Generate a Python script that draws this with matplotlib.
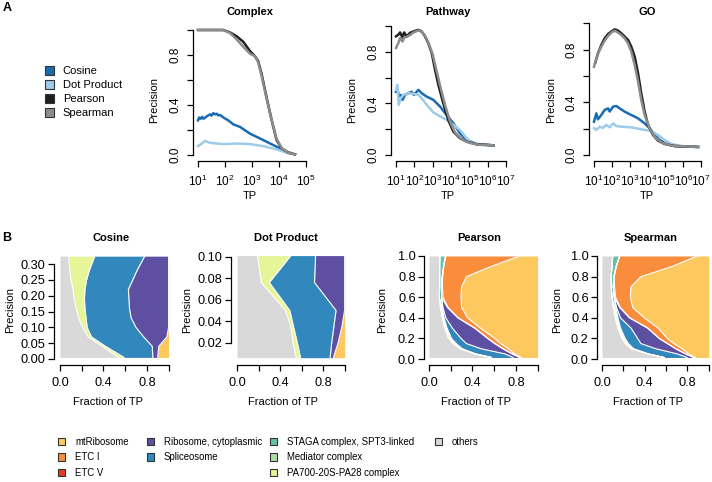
import numpy as np
import matplotlib.pyplot as plt
from matplotlib.patches import Patch

plt.rcParams['font.family'] = ['Liberation Sans', 'DejaVu Sans']
plt.rcParams['mathtext.fontset'] = 'custom'
plt.rcParams['mathtext.rm'] = 'Liberation Sans'

# ---- panel A: precision vs TP (x given as log10 TP) ----
methods = ["Cosine", "Dot Product", "Pearson", "Spearman"]
method_cols = ["#1a6ab4", "#9dcbe9", "#1f1f1f", "#8c8c8c"]

complex_cos_x = [1.0, 1.04, 1.1, 1.15, 1.2, 1.27, 1.33, 1.38, 1.45, 1.5, 1.57, 1.63, 1.7, 1.75, 1.82, 1.88, 1.94, 2.12, 2.31, 2.56, 2.93, 3.3, 3.67, 4.04, 4.28, 4.59]
complex_cos_y = [0.277, 0.30, 0.29, 0.305, 0.29, 0.30, 0.31, 0.317, 0.325, 0.315, 0.335, 0.325, 0.33, 0.317, 0.32, 0.31, 0.30, 0.277, 0.245, 0.224, 0.17, 0.132, 0.092, 0.053, 0.026, 0.005]
complex_dot_x = [1.0, 1.14, 1.26, 1.44, 1.69, 1.94, 2.43, 2.93, 3.42, 3.91, 4.28, 4.59]
complex_dot_y = [0.071, 0.092, 0.113, 0.098, 0.092, 0.087, 0.092, 0.087, 0.071, 0.045, 0.018, 0.005]
complex_pea_x = [1.0, 1.5, 1.94, 2.19, 2.43, 2.68, 2.93, 3.11, 3.23, 3.36, 3.54, 3.73, 3.91, 4.1, 4.35, 4.59]
complex_pea_y = [1.0, 1.0, 1.0, 0.98, 0.95, 0.905, 0.83, 0.79, 0.75, 0.645, 0.46, 0.277, 0.12, 0.053, 0.018, 0.005]
complex_spe_x = [1.0, 1.5, 1.94, 2.19, 2.43, 2.68, 2.93, 3.11, 3.23, 3.36, 3.54, 3.73, 3.91, 4.1, 4.35, 4.59]
complex_spe_y = [1.0, 1.0, 1.0, 0.975, 0.925, 0.865, 0.81, 0.79, 0.74, 0.63, 0.45, 0.28, 0.13, 0.055, 0.018, 0.005]

path_cos_x = [1.0, 1.07, 1.16, 1.25, 1.36, 1.49, 1.67, 1.85, 1.98, 2.22, 2.4, 2.67, 3.04, 3.4, 3.76, 4.13, 4.49, 4.85, 5.4, 6.31]
path_cos_y = [0.49, 0.518, 0.453, 0.466, 0.427, 0.466, 0.479, 0.49, 0.466, 0.505, 0.479, 0.453, 0.427, 0.376, 0.31, 0.246, 0.168, 0.117, 0.085, 0.075]
path_dot_x = [1.0, 1.07, 1.15, 1.25, 1.4, 1.67, 1.95, 2.22, 2.4, 2.67, 3.04, 3.4, 3.76, 4.13, 4.49, 4.85, 5.13, 5.58, 6.31]
path_dot_y = [0.505, 0.544, 0.389, 0.44, 0.466, 0.479, 0.475, 0.466, 0.44, 0.39, 0.33, 0.30, 0.272, 0.233, 0.194, 0.13, 0.095, 0.078, 0.075]
path_pea_x = [1.0, 1.13, 1.22, 1.36, 1.44, 1.58, 1.76, 1.95, 2.22, 2.4, 2.58, 2.76, 2.95, 3.13, 3.31, 3.58, 3.85, 4.13, 4.49, 4.85, 5.4, 6.31]
path_pea_y = [0.92, 0.933, 0.95, 0.91, 0.95, 0.92, 0.946, 0.958, 0.97, 0.958, 0.92, 0.868, 0.79, 0.66, 0.544, 0.40, 0.272, 0.181, 0.13, 0.104, 0.083, 0.075]
path_spe_x = [1.0, 1.13, 1.22, 1.36, 1.44, 1.58, 1.76, 1.95, 2.22, 2.4, 2.6, 2.8, 3.0, 3.2, 3.4, 3.67, 3.95, 4.22, 4.6, 5.0, 5.5, 6.31]
path_spe_y = [0.83, 0.868, 0.907, 0.88, 0.91, 0.915, 0.93, 0.95, 0.966, 0.955, 0.92, 0.86, 0.78, 0.66, 0.54, 0.39, 0.26, 0.175, 0.12, 0.095, 0.08, 0.075]

go_cos_x = [1.0, 1.13, 1.22, 1.41, 1.6, 1.79, 1.88, 2.07, 2.25, 2.44, 2.72, 3.09, 3.47, 3.84, 4.12, 4.4, 4.68, 5.05, 5.52, 6.83]
go_cos_y = [0.253, 0.316, 0.271, 0.304, 0.342, 0.354, 0.33, 0.367, 0.372, 0.354, 0.329, 0.304, 0.278, 0.24, 0.203, 0.152, 0.114, 0.084, 0.068, 0.061]
go_dot_x = [1.0, 1.13, 1.32, 1.5, 1.69, 1.88, 2.07, 2.25, 2.53, 3.09, 3.65, 4.21, 4.59, 4.96, 5.33, 5.9, 6.83]
go_dot_y = [0.203, 0.19, 0.215, 0.205, 0.228, 0.21, 0.24, 0.22, 0.215, 0.21, 0.195, 0.182, 0.152, 0.114, 0.084, 0.068, 0.061]
go_pea_x = [1.07, 1.22, 1.41, 1.6, 1.79, 1.97, 2.16, 2.35, 2.53, 2.72, 2.91, 3.09, 3.28, 3.47, 3.65, 3.84, 4.03, 4.31, 4.59, 4.96, 5.52, 6.83]
go_pea_y = [0.70, 0.77, 0.835, 0.886, 0.919, 0.937, 0.954, 0.944, 0.924, 0.899, 0.873, 0.823, 0.747, 0.62, 0.468, 0.329, 0.228, 0.152, 0.109, 0.084, 0.068, 0.061]
go_spe_x = [1.0, 1.22, 1.41, 1.6, 1.79, 1.97, 2.16, 2.35, 2.53, 2.72, 2.91, 3.09, 3.28, 3.47, 3.65, 3.84, 4.12, 4.4, 4.78, 5.33, 6.83]
go_spe_y = [0.67, 0.77, 0.823, 0.868, 0.904, 0.929, 0.944, 0.929, 0.911, 0.886, 0.848, 0.785, 0.684, 0.557, 0.418, 0.304, 0.203, 0.139, 0.094, 0.071, 0.061]

# ---- panel B: fraction of TP per complex at each precision level ----
cats = ["others", "PA700-20S-PA28 complex", "Mediator complex", "STAGA complex, SPT3-linked",
        "Spliceosome", "Ribosome, cytoplasmic", "ETC V", "ETC I", "mtRibosome"]
cat_cols = ["#d9d9d9", "#e6f598", "#abdda4", "#66c2a5", "#3288bd", "#5e4fa2", "#e8371f", "#f98d3c", "#fdc95e"]

cos_prec = [0.005, 0.04, 0.07, 0.10, 0.13, 0.16, 0.19, 0.22, 0.25, 0.28, 0.325]
cos_frac = {
    "others": [0.54, 0.39, 0.26, 0.21, 0.17, 0.15, 0.13, 0.12, 0.10, 0.09, 0.08],
    "PA700-20S-PA28 complex": [0.05, 0.03, 0.03, 0.04, 0.07, 0.08, 0.095, 0.11, 0.145, 0.18, 0.24],
    "Spliceosome": [0.265, 0.43, 0.48, 0.45, 0.415, 0.41, 0.41, 0.40, 0.425, 0.44, 0.46],
    "Ribosome, cytoplasmic": [0.045, 0.06, 0.215, 0.30, 0.345, 0.36, 0.365, 0.37, 0.33, 0.29, 0.22],
    "mtRibosome": [0.10, 0.09, 0.015, 0, 0, 0, 0, 0, 0, 0, 0],
}
dot_prec = [0.006, 0.02, 0.035, 0.05, 0.076, 0.101]
dot_frac = {
    "others": [0.55, 0.52, 0.50, 0.45, 0.225, 0.19],
    "PA700-20S-PA28 complex": [0.04, 0.04, 0.025, 0.04, 0.075, 0.31],
    "Spliceosome": [0.275, 0.32, 0.375, 0.43, 0.42, 0.23],
    "Ribosome, cytoplasmic": [0.03, 0.06, 0.075, 0.08, 0.28, 0.27],
    "mtRibosome": [0.105, 0.06, 0.025, 0.0, 0, 0],
}
corr_prec = [0.015, 0.05, 0.1, 0.15, 0.2, 0.3, 0.4, 0.5, 0.6, 0.7, 0.8, 0.9, 1.0]
pea_frac = {
    "others": [0.575, 0.42, 0.285, 0.22, 0.18, 0.145, 0.12, 0.105, 0.095, 0.098, 0.098, 0.098, 0.10],
    "PA700-20S-PA28 complex": [0, 0.006, 0.009, 0.015, 0.012, 0.009, 0.006, 0.006, 0, 0, 0, 0, 0],
    "Mediator complex": [0, 0, 0.006, 0.009, 0.009, 0.006, 0.006, 0.006, 0, 0, 0, 0, 0],
    "STAGA complex, SPT3-linked": [0, 0, 0.006, 0.006, 0.006, 0.006, 0.006, 0.006, 0.021, 0.018, 0.024, 0.037, 0.053],
    "Spliceosome": [0.20, 0.274, 0.174, 0.095, 0.088, 0.049, 0.017, 0.005, 0, 0, 0, 0, 0],
    "Ribosome, cytoplasmic": [0.06, 0.065, 0.20, 0.26, 0.245, 0.205, 0.11, 0.042, 0, 0, 0, 0, 0],
    "ETC V": [0.003, 0.003, 0.003, 0.003, 0.003, 0.003, 0.004, 0.006, 0.012, 0.008, 0.003, 0, 0],
    "ETC I": [0.012, 0.022, 0.047, 0.052, 0.062, 0.052, 0.086, 0.124, 0.166, 0.176, 0.22, 0.44, 0.682],
    "mtRibosome": [0.15, 0.21, 0.27, 0.34, 0.395, 0.525, 0.645, 0.70, 0.706, 0.70, 0.655, 0.425, 0.165],
}
spe_frac = {
    "others": [0.58, 0.426, 0.272, 0.216, 0.185, 0.148, 0.123, 0.105, 0.093, 0.086, 0.086, 0.093, 0.10],
    "PA700-20S-PA28 complex": [0, 0.006, 0.009, 0.012, 0.012, 0.009, 0.009, 0.006, 0, 0, 0, 0, 0],
    "Mediator complex": [0, 0, 0.008, 0.01, 0.01, 0.008, 0.008, 0.008, 0, 0, 0, 0, 0],
    "STAGA complex, SPT3-linked": [0, 0, 0.007, 0.009, 0.009, 0.008, 0.008, 0.011, 0.022, 0.019, 0.025, 0.04, 0.065],
    "Spliceosome": [0.216, 0.272, 0.207, 0.117, 0.117, 0.099, 0.025, 0.005, 0, 0, 0, 0, 0],
    "Ribosome, cytoplasmic": [0.062, 0.076, 0.185, 0.247, 0.201, 0.154, 0.083, 0.03, 0, 0, 0, 0, 0],
    "ETC V": [0.003, 0.003, 0.003, 0.003, 0.003, 0.003, 0.004, 0.006, 0.012, 0.012, 0.003, 0, 0],
    "ETC I": [0.012, 0.027, 0.059, 0.059, 0.074, 0.096, 0.135, 0.116, 0.138, 0.153, 0.25, 0.527, 0.725],
    "mtRibosome": [0.127, 0.19, 0.25, 0.327, 0.389, 0.475, 0.605, 0.713, 0.735, 0.73, 0.636, 0.34, 0.11],
}

W, H = 712, 482
fig = plt.figure(figsize=(W / 100, H / 100), dpi=100)


def box(left, top, right, bottom):
    return fig.add_axes([left / W, 1 - bottom / H, (right - left) / W, (bottom - top) / H])


def r_style(ax, xb, yb, size):
    ax.spines[['top', 'right']].set_visible(False)
    ax.spines['left'].set_bounds(*yb)
    ax.spines['bottom'].set_bounds(*xb)
    for s in ['left', 'bottom']:
        ax.spines[s].set_linewidth(0.9)
    ax.tick_params(direction='out', length=4, width=0.9, labelsize=size, pad=2)
    ax.patch.set_alpha(0)


def ftext(x, y, s, **kw):
    fig.text(x / W, 1 - y / H, s, ha='center', va='center', **kw)


# panel A
a_panels = [
    ("Complex", (193, 310), (0.815, 5.148), (-0.048, 1.08), 5,
     [(complex_cos_x, complex_cos_y), (complex_dot_x, complex_dot_y), (complex_pea_x, complex_pea_y), (complex_spe_x, complex_spe_y)],
     250, 154),
    ("Pathway", (391, 511), (0.727, 7.273), (-0.0465, 1.0465), 7,
     [(path_cos_x, path_cos_y), (path_dot_x, path_dot_y), (path_pea_x, path_pea_y), (path_spe_x, path_spe_y)],
     448, 352),
    ("GO", (589, 706), (0.72, 7.28), (-0.0456, 1.025), 7,
     [(go_cos_x, go_cos_y), (go_dot_x, go_dot_y), (go_pea_x, go_pea_y), (go_spe_x, go_spe_y)],
     647, 551),
]
for title, (l, r), xl, yl, emax, series, cx, ylx in a_panels:
    ax = box(l, 20, r, 161)
    ax.set_xscale('log')
    for (lx, py), c in zip(series, method_cols):
        ax.plot(10 ** np.array(lx), py, color=c, lw=1.8, solid_joinstyle='round')
    ax.set_xlim(10 ** xl[0], 10 ** xl[1])
    ax.set_ylim(*yl)
    ax.minorticks_off()
    xt = [10 ** e for e in range(1, emax + 1)]
    ax.set_xticks(xt)
    ax.set_xticklabels([r'$\mathdefault{10^{%d}}$' % e for e in range(1, emax + 1)])
    ax.set_yticks([0, 0.2, 0.4, 0.6, 0.8, 1.0])
    ax.set_yticklabels(['0.0', '', '0.4', '', '0.8', ''], rotation=90, va='center')
    r_style(ax, (xt[0], xt[-1]), (0, 1.0), 8.5)
    ax.tick_params(axis='x', pad=5)
    ax.tick_params(axis='y', pad=4)
    ftext(cx, 12, title, fontsize=8, fontweight='bold')
    ftext(cx, 196, "TP", fontsize=8)
    ftext(ylx, 100, "Precision", fontsize=8, rotation=90)

ftext(7, 8, "A", fontsize=9, fontweight='bold')
ftext(7, 238, "B", fontsize=9, fontweight='bold')

fig.legend([Patch(facecolor=c, edgecolor='#333333', lw=0.8) for c in method_cols], methods,
           loc='upper left', bbox_to_anchor=(45 / W, 1 - 66 / H), frameon=False, fontsize=8,
           handlelength=0.8, handleheight=0.8, labelspacing=0.36, handletextpad=0.8,
           borderaxespad=0, borderpad=0)

# panel B
b_panels = [
    ("Cosine", (54, 174), (-0.055, 1.05), (-0.019, 0.335), cos_prec, cos_frac,
     [0, 0.05, 0.10, 0.15, 0.20, 0.25, 0.30], (0, 0.30), '%.2f', 111, 10),
    ("Dot Product", (231, 350), (-0.056, 1.05), (-0.0008, 0.1034), dot_prec, dot_frac,
     [0.02, 0.04, 0.06, 0.08, 0.10], (0.02, 0.10), '%.2f', 286, 187),
    ("Pearson", (424, 543), (-0.046, 1.05), (-0.058, 1.029), corr_prec, pea_frac,
     [0, 0.2, 0.4, 0.6, 0.8, 1.0], (0, 1.0), '%.1f', 479, 382),
    ("Spearman", (597, 711), (-0.047, 1.02), (-0.058, 1.029), corr_prec, spe_frac,
     [0, 0.2, 0.4, 0.6, 0.8, 1.0], (0, 1.0), '%.1f', 651, 557),
]
for title, (l, r), xl, yl, prec, frac, yt, yb, fmt, cx, ylx in b_panels:
    ax = box(l, 253, r, 365)
    left = np.zeros(len(prec))
    for cat, c in zip(cats, cat_cols):
        if cat not in frac:
            continue
        right = left + np.array(frac[cat])
        ax.fill_betweenx(prec, left, right, color=c, lw=0)
        left = right
    # white separators between the bands
    left = np.zeros(len(prec))
    for cat in cats[:-1]:
        if cat not in frac:
            continue
        left = left + np.array(frac[cat])
        ax.plot(left, prec, color='white', lw=0.8)
    ax.set_xlim(*xl)
    ax.set_ylim(*yl)
    ax.set_xticks([0, 0.2, 0.4, 0.6, 0.8, 1.0])
    ax.set_xticklabels(['0.0', '', '0.4', '', '0.8', ''])
    ax.set_yticks(yt)
    ax.set_yticklabels([fmt % v for v in yt])
    r_style(ax, (0, 1.0), yb, 9.2)
    ax.tick_params(axis='x', pad=5)
    ftext(cx, 238, title, fontsize=8, fontweight='bold')
    ftext(cx - 3, 402, "Fraction of TP", fontsize=8)
    ftext(ylx, 310, "Precision", fontsize=8, rotation=90)

legend_cols = [
    (["mtRibosome", "ETC I", "ETC V"], 58),
    (["Ribosome, cytoplasmic", "Spliceosome"], 147),
    (["STAGA complex, SPT3-linked", "Mediator complex", "PA700-20S-PA28 complex"], 270),
    (["others"], 435),
]
for names, xpos in legend_cols:
    hs = [Patch(facecolor=cat_cols[cats.index(n)], edgecolor='#333333', lw=0.8) for n in names]
    fig.legend(hs, names, loc='upper left', bbox_to_anchor=(xpos / W, 1 - 437 / H), frameon=False,
               prop={'family': ['Liberation Sans Narrow', 'Liberation Sans'], 'size': 6.9},
               handlelength=0.78, handleheight=0.78, labelspacing=0.55, handletextpad=1.0,
               borderaxespad=0, borderpad=0)

fig.savefig("out.png", dpi=100)
